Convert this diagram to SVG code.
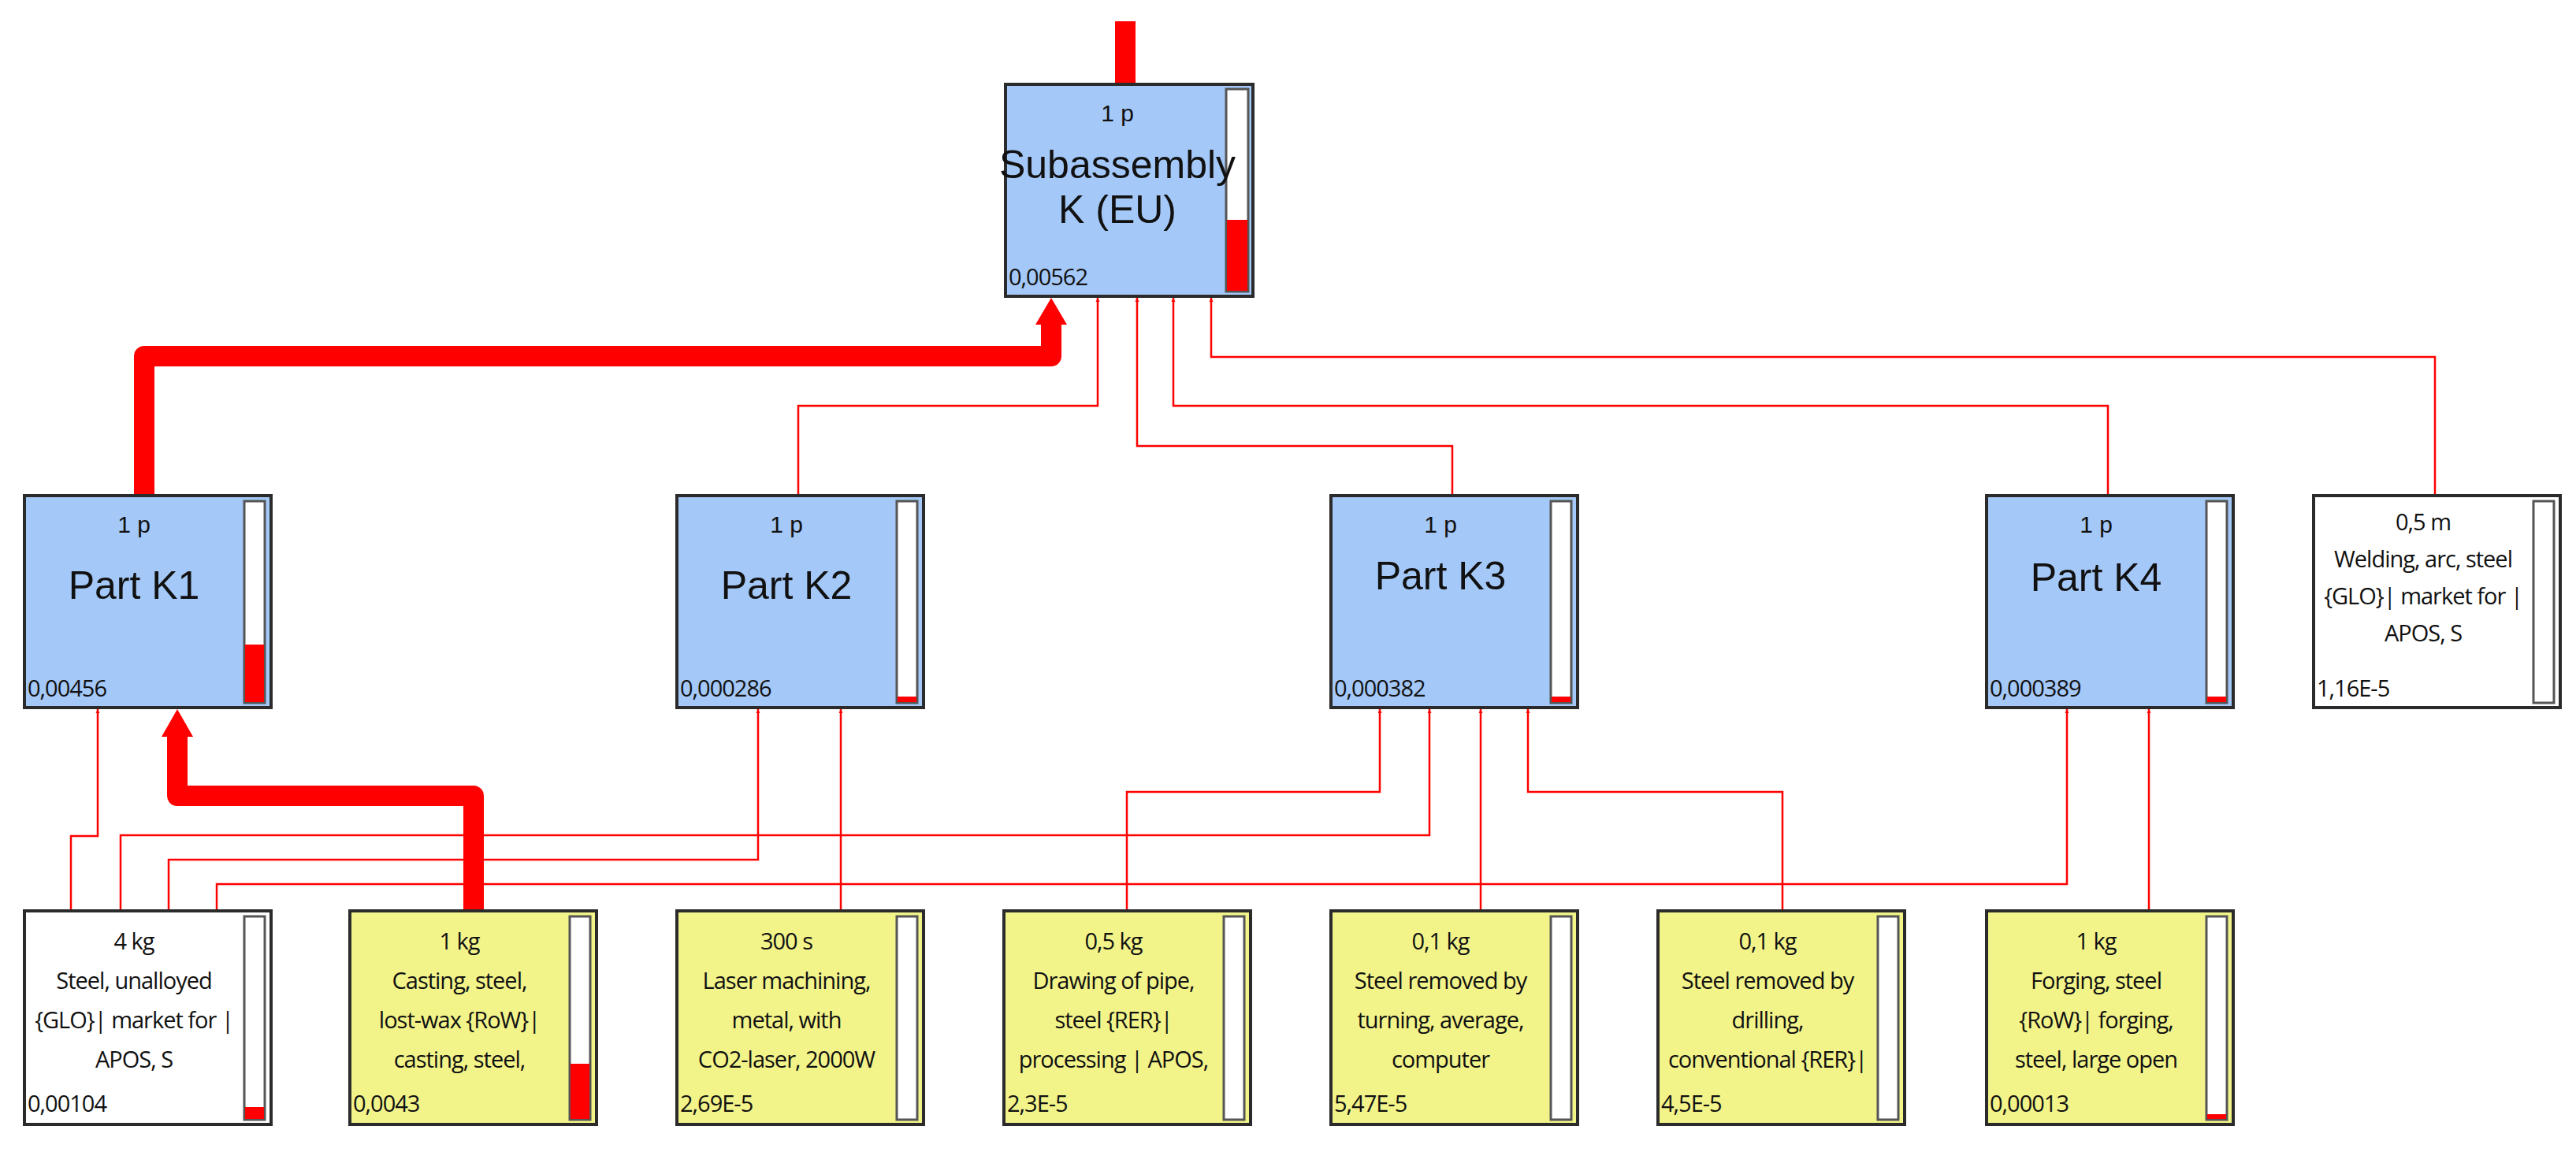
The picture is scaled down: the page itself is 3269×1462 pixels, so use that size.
<svg xmlns="http://www.w3.org/2000/svg" width="3269" height="1462" viewBox="0 0 3269 1462">
<style>
.box{stroke:#2b2b2b;stroke-width:4}
.blue{fill:#a4c8f8}.yel{fill:#f2f48a}.wht{fill:#fff}
.bar{fill:#fff;stroke:#555;stroke-width:3}
.red{fill:#f00}
.t{font-family:"Liberation Sans",Arial,sans-serif;fill:#111;text-anchor:middle}
.u{font-size:30px}.big{font-size:50px}
.p{font-family:"Open Sans","Liberation Sans",sans-serif;font-size:29px;fill:#111;text-anchor:middle;letter-spacing:-1px}
.v{font-family:"Open Sans","Liberation Sans",sans-serif;font-size:29px;fill:#111;letter-spacing:-1px}
.thin{fill:none;stroke:#f00;stroke-width:2.5}
.thick{fill:none;stroke:#f00;stroke-width:26;stroke-linejoin:round}
</style>
<defs>
<marker id="a" viewBox="0 0 10 10" refX="10" refY="5" markerWidth="5" markerHeight="7" markerUnits="userSpaceOnUse" orient="auto"><path d="M0,0L10,5L0,10z" fill="#f00"/></marker>
</defs>
<g id="connectors">
<line x1="1428" y1="27" x2="1428" y2="107" stroke="#f00" stroke-width="26"/>
<path class="thick" d="M183,629V452H1334V410"/>
<path d="M1334,378L1354,412H1314z" fill="#f00"/>
<path class="thick" d="M601,1156V1010H225V935"/>
<path d="M225,900L245,935H205z" fill="#f00"/>
<path class="thin" d="M1013,629V515H1393V378" marker-end="url(#a)"/>
<path class="thin" d="M1843,629V566H1443V378" marker-end="url(#a)"/>
<path class="thin" d="M2675,629V515H1489V378" marker-end="url(#a)"/>
<path class="thin" d="M3090,629V453H1537V378" marker-end="url(#a)"/>
<path class="thin" d="M90,1156V1061H124V900" marker-end="url(#a)"/>
<path class="thin" d="M153,1156V1060H1814V900" marker-end="url(#a)"/>
<path class="thin" d="M214,1156V1091H962V900" marker-end="url(#a)"/>
<path class="thin" d="M275,1156V1122H2623V900" marker-end="url(#a)"/>
<path class="thin" d="M1067,1156V900" marker-end="url(#a)"/>
<path class="thin" d="M1430,1156V1005H1751V900" marker-end="url(#a)"/>
<path class="thin" d="M1879,1156V900" marker-end="url(#a)"/>
<path class="thin" d="M2262,1156V1005H1939V900" marker-end="url(#a)"/>
<path class="thin" d="M2727,1156V900" marker-end="url(#a)"/>
</g>
<g id="sub">
<rect class="box blue" x="1276" y="107" width="314" height="269"/>
<rect class="bar" x="1556" y="113" width="28" height="257"/><rect class="red" x="1557" y="279" width="26" height="90"/>
<text class="t u" x="1418" y="154">1 p</text>
<text class="t big" x="1418" y="226">Subassembly</text>
<text class="t big" x="1418" y="283">K (EU)</text>
<text class="v" x="1280" y="362">0,00562</text>
</g>
<g id="k1">
<rect class="box blue" x="31" y="629" width="313" height="269"/>
<rect class="bar" x="310" y="636" width="26" height="256"/><rect class="red" x="311" y="818" width="24" height="73"/>
<text class="t u" x="170" y="676">1 p</text><text class="t big" x="170" y="760">Part K1</text>
<text class="v" x="35" y="884">0,00456</text>
</g>
<g id="k2">
<rect class="box blue" x="859" y="629" width="313" height="269"/>
<rect class="bar" x="1138" y="636" width="26" height="256"/><rect class="red" x="1139" y="884" width="24" height="7"/>
<text class="t u" x="998" y="676">1 p</text><text class="t big" x="998" y="760">Part K2</text>
<text class="v" x="863" y="884">0,000286</text>
</g>
<g id="k3">
<rect class="box blue" x="1689" y="629" width="313" height="269"/>
<rect class="bar" x="1968" y="636" width="26" height="256"/><rect class="red" x="1969" y="884" width="24" height="7"/>
<text class="t u" x="1828" y="676">1 p</text><text class="t big" x="1828" y="748">Part K3</text>
<text class="v" x="1693" y="884">0,000382</text>
</g>
<g id="k4">
<rect class="box blue" x="2521" y="629" width="313" height="269"/>
<rect class="bar" x="2800" y="636" width="26" height="256"/><rect class="red" x="2801" y="884" width="24" height="7"/>
<text class="t u" x="2660" y="676">1 p</text><text class="t big" x="2660" y="750">Part K4</text>
<text class="v" x="2525" y="884">0,000389</text>
</g>
<g id="weld">
<rect class="box wht" x="2936" y="629" width="313" height="269"/>
<rect class="bar" x="3215" y="636" width="26" height="256"/>
<text class="p" x="3075" y="673">0,5 m</text>
<text class="p" x="3075" y="720">Welding, arc, steel</text>
<text class="p" x="3075" y="767">{GLO}| market for |</text>
<text class="p" x="3075" y="814">APOS, S</text>
<text class="v" x="2940" y="884">1,16E-5</text>
</g>
<g id="steel">
<rect class="box wht" x="31" y="1156" width="313" height="271"/>
<rect class="bar" x="310" y="1163" width="26" height="258"/><rect class="red" x="311" y="1405" width="24" height="15"/>
<text class="p" x="170" y="1205">4 kg</text>
<text class="p" x="170" y="1255">Steel, unalloyed</text>
<text class="p" x="170" y="1305">{GLO}| market for |</text>
<text class="p" x="170" y="1355">APOS, S</text>
<text class="v" x="35" y="1411">0,00104</text>
</g>
<g id="casting">
<rect class="box yel" x="444" y="1156" width="313" height="271"/>
<rect class="bar" x="723" y="1163" width="26" height="258"/><rect class="red" x="724" y="1350" width="24" height="70"/>
<text class="p" x="583" y="1205">1 kg</text>
<text class="p" x="583" y="1255">Casting, steel,</text>
<text class="p" x="583" y="1305">lost-wax {RoW}|</text>
<text class="p" x="583" y="1355">casting, steel,</text>
<text class="v" x="448" y="1411">0,0043</text>
</g>
<g id="laser">
<rect class="box yel" x="859" y="1156" width="313" height="271"/>
<rect class="bar" x="1138" y="1163" width="26" height="258"/>
<text class="p" x="998" y="1205">300 s</text>
<text class="p" x="998" y="1255">Laser machining,</text>
<text class="p" x="998" y="1305">metal, with</text>
<text class="p" x="998" y="1355">CO2-laser, 2000W</text>
<text class="v" x="863" y="1411">2,69E-5</text>
</g>
<g id="pipe">
<rect class="box yel" x="1274" y="1156" width="313" height="271"/>
<rect class="bar" x="1553" y="1163" width="26" height="258"/>
<text class="p" x="1413" y="1205">0,5 kg</text>
<text class="p" x="1413" y="1255">Drawing of pipe,</text>
<text class="p" x="1413" y="1305">steel {RER}|</text>
<text class="p" x="1413" y="1355">processing | APOS,</text>
<text class="v" x="1278" y="1411">2,3E-5</text>
</g>
<g id="turning">
<rect class="box yel" x="1689" y="1156" width="313" height="271"/>
<rect class="bar" x="1968" y="1163" width="26" height="258"/>
<text class="p" x="1828" y="1205">0,1 kg</text>
<text class="p" x="1828" y="1255">Steel removed by</text>
<text class="p" x="1828" y="1305">turning, average,</text>
<text class="p" x="1828" y="1355">computer</text>
<text class="v" x="1693" y="1411">5,47E-5</text>
</g>
<g id="drilling">
<rect class="box yel" x="2104" y="1156" width="313" height="271"/>
<rect class="bar" x="2383" y="1163" width="26" height="258"/>
<text class="p" x="2243" y="1205">0,1 kg</text>
<text class="p" x="2243" y="1255">Steel removed by</text>
<text class="p" x="2243" y="1305">drilling,</text>
<text class="p" x="2243" y="1355">conventional {RER}|</text>
<text class="v" x="2108" y="1411">4,5E-5</text>
</g>
<g id="forging">
<rect class="box yel" x="2521" y="1156" width="313" height="271"/>
<rect class="bar" x="2800" y="1163" width="26" height="258"/><rect class="red" x="2801" y="1414" width="24" height="6"/>
<text class="p" x="2660" y="1205">1 kg</text>
<text class="p" x="2660" y="1255">Forging, steel</text>
<text class="p" x="2660" y="1305">{RoW}| forging,</text>
<text class="p" x="2660" y="1355">steel, large open</text>
<text class="v" x="2525" y="1411">0,00013</text>
</g>
</svg>
